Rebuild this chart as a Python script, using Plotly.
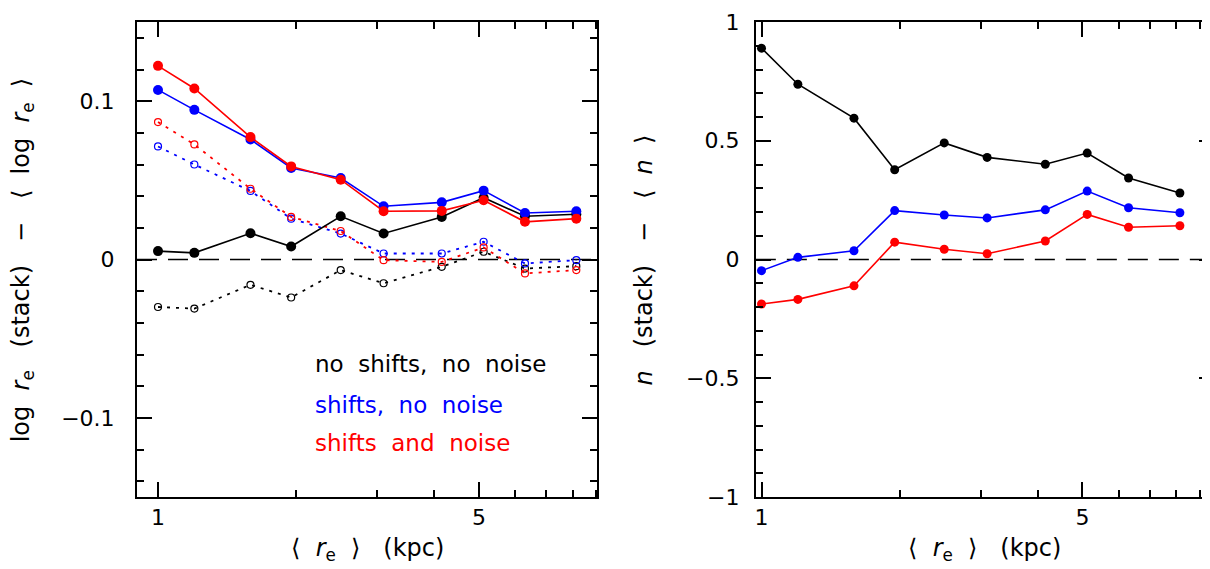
import numpy as np
import plotly.graph_objects as go

# ---- data ----
x_re = [1.0, 1.2, 1.59, 1.95, 2.5, 3.1, 4.15, 5.12, 6.3, 8.15]

# left panel: log r_e(stack) - <log r_e>
dre_none_solid = [0.0053, 0.0042, 0.0166, 0.0082, 0.0273, 0.0164, 0.0269, 0.0390, 0.0273, 0.0286]
dre_shift_solid = [0.1071, 0.0945, 0.0758, 0.0578, 0.0515, 0.0336, 0.0361, 0.0435, 0.0294, 0.0305]
dre_noise_solid = [0.1223, 0.1080, 0.0773, 0.0588, 0.0504, 0.0305, 0.0307, 0.0374, 0.0238, 0.0258]
dre_none_dot = [-0.0300, -0.0310, -0.0160, -0.0240, -0.0067, -0.0150, -0.0046, 0.0049, -0.0057, -0.0042]
dre_shift_dot = [0.0714, 0.0600, 0.0433, 0.0258, 0.0164, 0.0038, 0.0038, 0.0112, -0.0025, -0.0004]
dre_noise_dot = [0.0868, 0.0727, 0.0447, 0.0269, 0.0180, -0.0004, -0.0015, 0.0076, -0.0088, -0.0067]

# right panel: n(stack) - <n>
dn_none = [0.890, 0.738, 0.595, 0.378, 0.491, 0.430, 0.401, 0.448, 0.343, 0.280]
dn_shift = [-0.047, 0.009, 0.037, 0.206, 0.1875, 0.175, 0.209, 0.288, 0.218, 0.197]
dn_noise = [-0.1875, -0.168, -0.111, 0.073, 0.043, 0.024, 0.078, 0.190, 0.136, 0.142]

legend_labels = ["no  shifts,  no  noise", "shifts,  no  noise", "shifts  and  noise"]
colors = ["#000000", "#0000ff", "#ff0000"]

x_major = [1, 5]
x_minor = [2, 3, 4, 6, 7, 8, 9]

FONT = "DejaVu Sans"
FS = 22
FS_T = 24

fig = go.Figure()

# dotted series (left)
for ys, c in zip([dre_none_dot, dre_shift_dot, dre_noise_dot], colors):
    fig.add_trace(go.Scatter(
        x=x_re, y=ys, mode="lines+markers", xaxis="x", yaxis="y",
        line=dict(color=c, width=1.8, dash="3px,6px"),
        marker=dict(symbol="circle-open", size=7, color=c, line=dict(width=1.2, color=c)),
        showlegend=False, hoverinfo="skip"))

# solid series (left)
for ys, c in zip([dre_none_solid, dre_shift_solid, dre_noise_solid], colors):
    fig.add_trace(go.Scatter(
        x=x_re, y=ys, mode="lines+markers", xaxis="x", yaxis="y",
        line=dict(color=c, width=1.6),
        marker=dict(symbol="circle", size=10, color=c),
        showlegend=False))

# right panel
for ys, c in zip([dn_none, dn_shift, dn_noise], colors):
    fig.add_trace(go.Scatter(
        x=x_re, y=ys, mode="lines+markers", xaxis="x2", yaxis="y2",
        line=dict(color=c, width=1.6),
        marker=dict(symbol="circle", size=9, color=c),
        showlegend=False))

dom1 = [0.0, 0.4273]
dom2 = [0.5746, 1.0]


def xaxis(domain, rng, anchor):
    return dict(
        type="log", domain=domain, range=[np.log10(rng[0]), np.log10(rng[1])],
        anchor=anchor, showgrid=False, zeroline=False,
        showline=True, linecolor="black", linewidth=2, mirror="allticks",
        ticks="inside", ticklen=15, tickwidth=1.5, tickcolor="black",
        tickvals=x_major, ticktext=[str(v) for v in x_major],
        ticklabelstandoff=0,
        tickfont=dict(family=FONT, size=FS, color="black"),
        minor=dict(tickvals=x_minor, ticks="inside", ticklen=7, tickwidth=1.5,
                   tickcolor="black", showgrid=False),
    )


def yaxis(domain, rng, major, minor_dt, anchor, labels, standoff):
    return dict(
        domain=domain, range=rng, anchor=anchor, showgrid=False, zeroline=False,
        showline=True, linecolor="black", linewidth=2, mirror="allticks",
        ticks="inside", ticklen=15, tickwidth=1.5, tickcolor="black",
        tickvals=major, ticktext=labels, ticklabelstandoff=standoff,
        tickfont=dict(family=FONT, size=FS, color="black"),
        minor=dict(dtick=minor_dt, tick0=0, ticks="inside", ticklen=7, tickwidth=1.5,
                   tickcolor="black", showgrid=False),
    )


fig.update_layout(
    width=1210, height=569,
    margin=dict(l=129, r=2, t=14, b=80),
    paper_bgcolor="white", plot_bgcolor="white",
    font=dict(family=FONT, size=FS, color="black"),
    xaxis=xaxis(dom1, [0.9, 9.05], "y"),
    yaxis=yaxis([0, 1], [-0.15, 0.15], [-0.1, 0, 0.1], 0.02, "x",
                ["\u22120.1", "0", "0.1"], 16),
    xaxis2=xaxis(dom2, [0.972, 9.67], "y2"),
    yaxis2=yaxis([0, 1], [-1, 1], [-1, -0.5, 0, 0.5, 1], 0.1, "x2",
                 ["\u22121", "\u22120.5", "0", "0.5", "1"], 10),
)

# dashed zero lines
for xr, yr in [("x domain", "y"), ("x2 domain", "y2")]:
    fig.add_shape(type="line", xref=xr, yref=yr, x0=0, x1=1, y0=0, y1=0,
                  line=dict(color="black", width=1.5, dash="20px,11px"), layer="below")

# in-plot legend text
for i, (lab, c) in enumerate(zip(legend_labels, colors)):
    fig.add_annotation(text=lab, xref="x domain", yref="y domain",
                       x=0.383, y=[0.28, 0.194, 0.114][i], xanchor="left", yanchor="middle",
                       showarrow=False, font=dict(family=FONT, size=23, color=c))

# axis titles
xtitle = "\u27e8  <i>r</i><sub>e</sub>  \u27e9   (kpc)"
for xr in ["x domain", "x2 domain"]:
    fig.add_annotation(text=xtitle, xref=xr, yref="paper", x=0.5, y=-0.11,
                       xanchor="center", yanchor="middle", showarrow=False,
                       font=dict(family=FONT, size=FS_T))

fig.add_annotation(text="log  <i>r</i><sub>e</sub>   (stack)   \u2212   \u27e8  log  <i>r</i><sub>e</sub>  \u27e9",
                   xref="paper", yref="y domain", x=-0.106, y=0.5, xanchor="center",
                   yanchor="middle", textangle=-90, showarrow=False,
                   font=dict(family=FONT, size=FS_T))
fig.add_annotation(text="<i>n</i>   (stack)   \u2212   \u27e8  <i>n</i>  \u27e9",
                   xref="paper", yref="y2 domain", x=0.4707, y=0.5, xanchor="center",
                   yanchor="middle", textangle=-90, showarrow=False,
                   font=dict(family=FONT, size=FS_T))

fig.write_html("out.html")
